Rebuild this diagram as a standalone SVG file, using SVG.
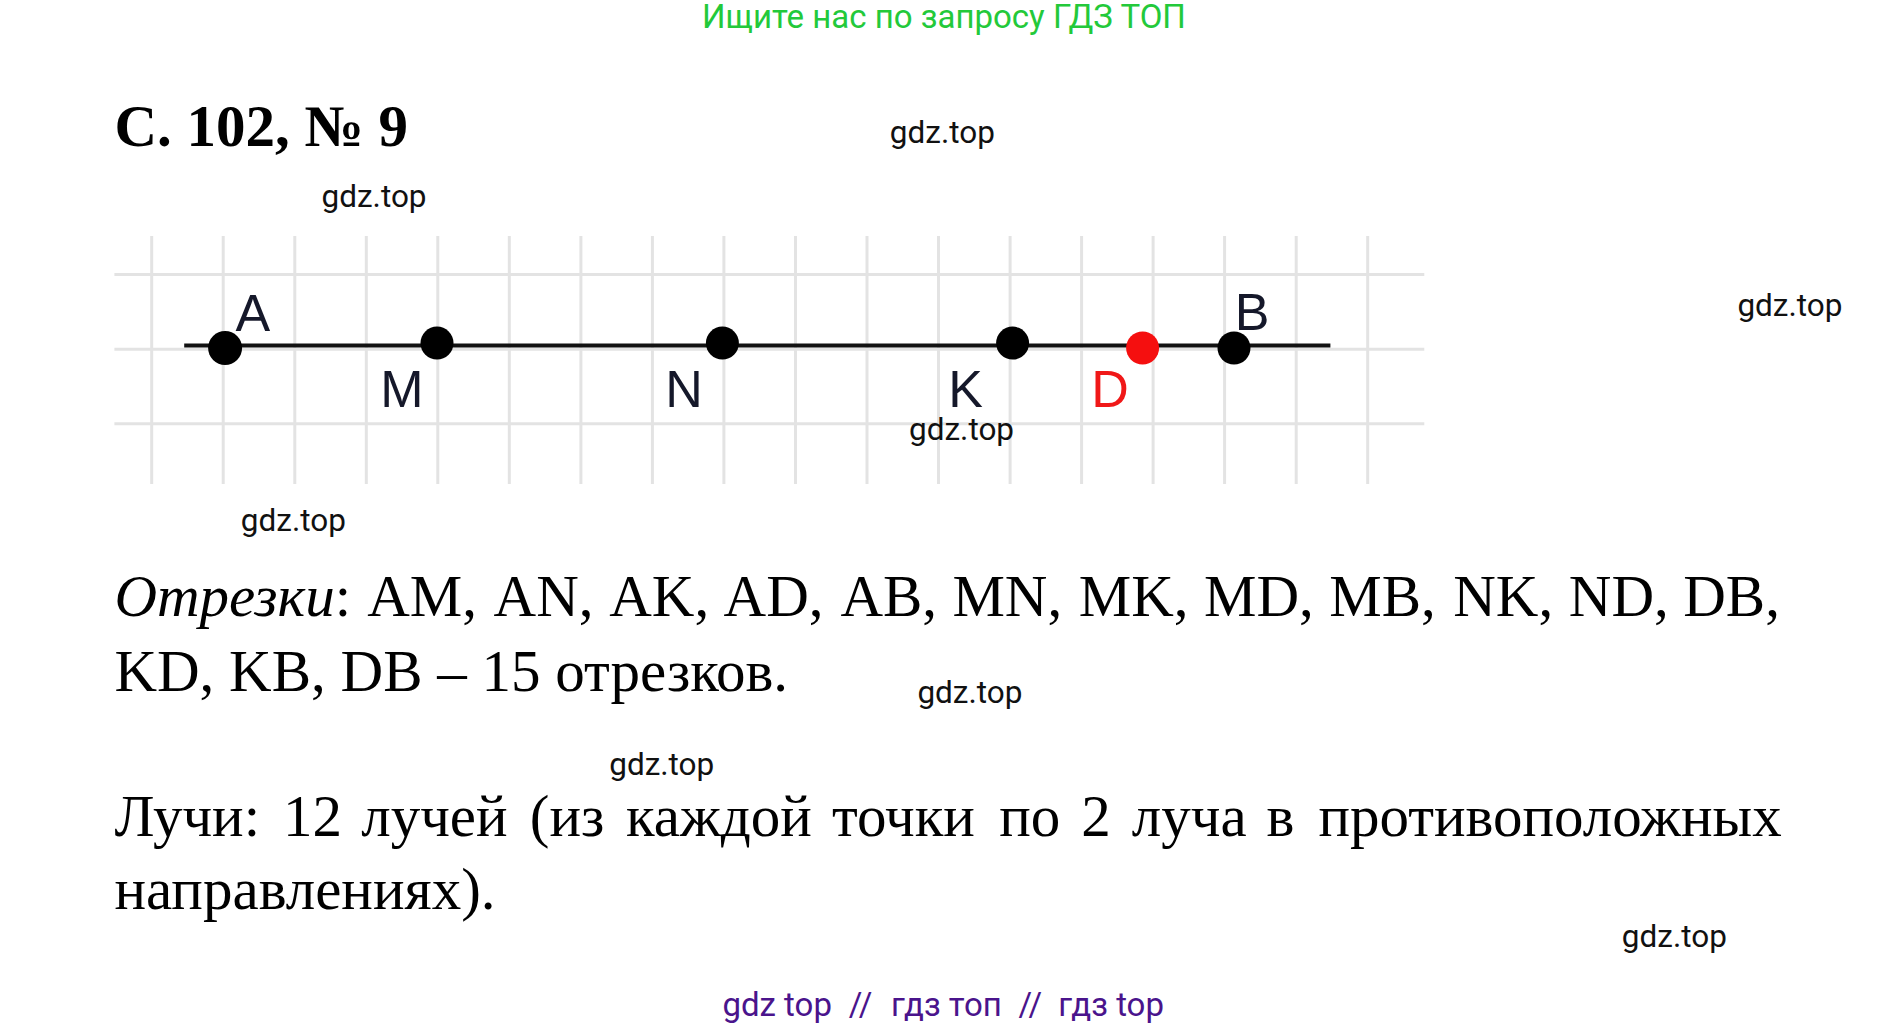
<svg xmlns="http://www.w3.org/2000/svg" width="1887" height="1028" viewBox="0 0 1887 1028">
<style>
.wm{font-family:Roboto,"Liberation Sans",sans-serif;font-size:31.5px;fill:#111}
.body{font-family:"Liberation Serif","Times New Roman",serif;font-size:59px;fill:#000}
.lbl{font-family:"Liberation Sans",Arial,sans-serif;font-size:52px;fill:#15182a;text-anchor:middle}
.grid line{stroke:#e3e3e3;stroke-width:3}
.dot{fill:#000}
</style>
<rect width="1887" height="1028" fill="#fff"/>
<text x="944" y="28" text-anchor="middle" style="font-family:Roboto,'Liberation Sans',sans-serif;font-size:33px;fill:#23c93a">Ищите нас по запросу ГДЗ ТОП</text>
<text x="114.4" y="146" style="font-family:'Liberation Serif','Times New Roman',serif;font-size:59px;font-weight:bold;fill:#000">С. 102, № 9</text>
<g id="grid" class="grid">
<line x1="151.7" y1="236" x2="151.7" y2="484"/>
<line x1="223.2" y1="236" x2="223.2" y2="484"/>
<line x1="294.8" y1="236" x2="294.8" y2="484"/>
<line x1="366.3" y1="236" x2="366.3" y2="484"/>
<line x1="437.8" y1="236" x2="437.8" y2="484"/>
<line x1="509.3" y1="236" x2="509.3" y2="484"/>
<line x1="580.9" y1="236" x2="580.9" y2="484"/>
<line x1="652.4" y1="236" x2="652.4" y2="484"/>
<line x1="723.9" y1="236" x2="723.9" y2="484"/>
<line x1="795.5" y1="236" x2="795.5" y2="484"/>
<line x1="867.0" y1="236" x2="867.0" y2="484"/>
<line x1="938.5" y1="236" x2="938.5" y2="484"/>
<line x1="1010.1" y1="236" x2="1010.1" y2="484"/>
<line x1="1081.6" y1="236" x2="1081.6" y2="484"/>
<line x1="1153.1" y1="236" x2="1153.1" y2="484"/>
<line x1="1224.6" y1="236" x2="1224.6" y2="484"/>
<line x1="1296.2" y1="236" x2="1296.2" y2="484"/>
<line x1="1367.7" y1="236" x2="1367.7" y2="484"/>
<line x1="114.4" y1="274.5" x2="1424.3" y2="274.5"/>
<line x1="114.4" y1="349.2" x2="1424.3" y2="349.2"/>
<line x1="114.4" y1="423.8" x2="1424.3" y2="423.8"/>
</g>
<g id="connectors">
<line x1="184.2" y1="345.5" x2="1330.4" y2="345.5" stroke="#111" stroke-width="4"/>
</g>
<g id="node-A"><circle class="dot" cx="225.1" cy="348" r="17"/><text class="lbl" x="252.8" y="331">A</text></g>
<g id="node-M"><circle class="dot" cx="437" cy="343.1" r="16.5"/><text class="lbl" x="402" y="407">M</text></g>
<g id="node-N"><circle class="dot" cx="722.4" cy="343.1" r="16.5"/><text class="lbl" x="684" y="407">N</text></g>
<g id="node-K"><circle class="dot" cx="1012.6" cy="343.1" r="16.5"/><text class="lbl" x="965.6" y="407">K</text></g>
<g id="node-D"><circle cx="1142.6" cy="348" r="16.5" fill="#f50f0f"/><text class="lbl" x="1110" y="407" style="fill:#f01818">D</text></g>
<g id="node-B"><circle class="dot" cx="1234" cy="348" r="16.5"/><text class="lbl" x="1252" y="330">B</text></g>
<text class="body" y="615.5"><tspan x="114.4" font-style="italic">Отрезки</tspan><tspan>:</tspan><tspan x="367.2">AM,</tspan><tspan x="493.6">AN,</tspan><tspan x="609.2">AK,</tspan><tspan x="723.6">AD,</tspan><tspan x="840.4">AB,</tspan><tspan x="952.4">MN,</tspan><tspan x="1078.8">MK,</tspan><tspan x="1204">MD,</tspan><tspan x="1329.2">MB,</tspan><tspan x="1453.2">NK,</tspan><tspan x="1568.8">ND,</tspan><tspan x="1683.2">DB,</tspan></text>
<text class="body" x="114.4" y="690.5">KD, KB, DB – 15 отрезков.</text>
<text class="body" y="835.5"><tspan x="114.4">Лучи:</tspan><tspan x="283">12</tspan><tspan x="361.2">лучей</tspan><tspan x="529.8">(из</tspan><tspan x="626">каждой</tspan><tspan x="832">точки</tspan><tspan x="999.3">по</tspan><tspan x="1081.2">2</tspan><tspan x="1131.8">луча</tspan><tspan x="1266.6">в</tspan><tspan x="1318.4">противоположных</tspan></text>
<text class="body" x="114.4" y="908.5">направлениях).</text>
<g id="watermarks">
<text class="wm" x="889.8" y="143">gdz.top</text>
<text class="wm" x="321.5" y="207">gdz.top</text>
<text class="wm" x="1737.4" y="316">gdz.top</text>
<text class="wm" x="909" y="439.5">gdz.top</text>
<text class="wm" x="240.8" y="531">gdz.top</text>
<text class="wm" x="917.4" y="703">gdz.top</text>
<text class="wm" x="609.2" y="774.6">gdz.top</text>
<text class="wm" x="1621.8" y="947.4">gdz.top</text>
</g>
<g id="footer" style="font-family:Roboto,'Liberation Sans',sans-serif;font-size:33px;fill:#4a148c">
<text x="722.4" y="1016.4">gdz top</text>
<text x="848.8" y="1016.4">//</text>
<text x="891" y="1016.4">гдз топ</text>
<text x="1018.6" y="1016.4">//</text>
<text x="1058.3" y="1016.4">гдз top</text>
</g>
</svg>
